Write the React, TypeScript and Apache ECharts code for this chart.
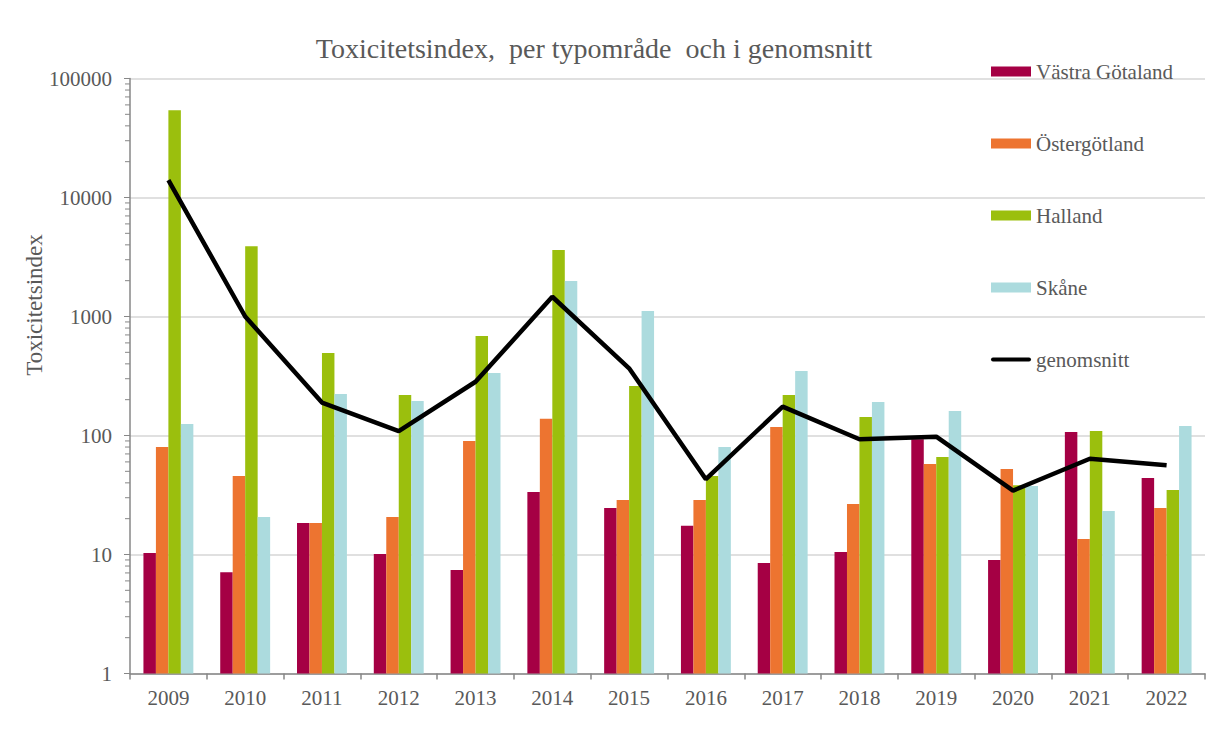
import React, { useEffect, useRef } from "react";
import * as echarts from "echarts";

const years = ["2009", "2010", "2011", "2012", "2013", "2014", "2015", "2016", "2017", "2018", "2019", "2020", "2021", "2022"];
const vastraGotaland = [10.3, 7.1, 18.4, 10.1, 7.4, 33.5, 24.6, 17.4, 8.5, 10.5, 93, 9.0, 107, 44];
const ostergotland = [80, 45.7, 18.4, 20.7, 90, 138, 28.7, 28.7, 118, 26.6, 57.6, 52.3, 13.5, 24.6];
const halland = [54000, 3900, 493, 219, 686, 3620, 261, 45.7, 219, 143, 66, 38.2, 109, 34.8];
const skane = [125, 20.7, 223, 195, 335, 1990, 1112, 80, 348, 191, 161, 37.6, 23.2, 120];
const genomsnitt = [14000, 1000, 189, 109, 283, 1466, 367, 42.9, 175, 93, 97.7, 34.4, 63.8, 56.2];

// axis decoration: decades and the log minor-tick multipliers
const decades = [1, 10, 100, 1000, 10000];
const minorMultipliers = [2, 3, 4, 5, 6, 7, 8, 9];

const FONT = "Liberation Serif";
const TEXT = "#595959";
const AXIS = "#878787";

export default function App() {
  const ref = useRef<HTMLDivElement>(null);
  useEffect(() => {
    document.body.style.margin = "0";
    const chart = echarts.init(ref.current!, null, { renderer: "svg" });
    const minorTicks: number[][] = [];
    decades.forEach((d) => minorMultipliers.forEach((m) => minorTicks.push([0, d * m])));
    const barNames = ["Västra Götaland", "Östergötland", "Halland", "Skåne"];
    const barData = [vastraGotaland, ostergotland, halland, skane];
    const barColors = ["#A50044", "#ED7430", "#9BBF0D", "#ACDBDE"];
    const legendText = { fontFamily: FONT, fontSize: 21, lineHeight: 21, color: TEXT };
    chart.setOption({
      animation: false,
      textStyle: { fontFamily: FONT },
      title: {
        text: "Toxicitetsindex,  per typområde  och i genomsnitt",
        left: 589,
        top: 29,
        textAlign: "center",
        textStyle: { fontFamily: FONT, fontSize: 28, fontWeight: "normal", color: TEXT },
      },
      graphic: [
        {
          type: "text",
          x: 34,
          y: 305,
          rotation: Math.PI / 2,
          style: {
            text: "Toxicitetsindex",
            fontFamily: FONT,
            fontSize: 23,
            fill: TEXT,
            textAlign: "center",
            textVerticalAlign: "middle",
          },
        },
      ],
      legend: {
        orient: "vertical",
        left: 991,
        top: 61,
        padding: 0,
        itemWidth: 40,
        itemHeight: 10,
        itemGap: 51,
        icon: "rect",
        textStyle: legendText,
        data: [
          ...barNames.map((n) => ({ name: n, textStyle: legendText })),
          {
            name: "genomsnitt",
            textStyle: legendText,
            icon: "path://M2,0 L38,0 A2,2 0 0 1 38,4 L2,4 A2,2 0 0 1 2,0 Z",
          },
        ],
      },
      grid: { left: 130, right: 16, top: 78.5, bottom: 64.5, containLabel: false },
      xAxis: {
        type: "category",
        data: years,
        boundaryGap: true,
        axisLine: { lineStyle: { color: AXIS, width: 1.5 } },
        axisTick: { show: true, alignWithLabel: false, length: 6, lineStyle: { color: AXIS, width: 1.5 } },
        axisLabel: { fontFamily: FONT, fontSize: 21, color: TEXT, margin: 14 },
        splitLine: { show: false },
      },
      yAxis: {
        type: "log",
        logBase: 10,
        min: 1,
        max: 100000,
        axisLine: { show: true, lineStyle: { color: AXIS, width: 1.5 } },
        axisTick: { show: true, length: 6, lineStyle: { color: AXIS, width: 1 } },
        axisLabel: {
          fontFamily: FONT,
          fontSize: 21,
          color: TEXT,
          margin: 18,
          formatter: (v: number) => String(Math.round(v)),
        },
        splitLine: { show: true, lineStyle: { color: "#D6D6D6", width: 1.5 } },
      },
      series: [
        ...barNames.map((name, i) => ({
          name,
          type: "bar",
          data: barData[i],
          barGap: "0%",
          barCategoryGap: "35%",
          itemStyle: { color: barColors[i] },
        })),
        {
          name: "genomsnitt",
          type: "line",
          data: genomsnitt,
          symbol: "none",
          z: 5,
          itemStyle: { color: "#000000" },
          lineStyle: { color: "#000000", width: 4.5 },
        },
        {
          name: "minorTicks",
          type: "custom",
          silent: true,
          clip: false,
          data: minorTicks,
          encode: { x: 0, y: 1 },
          renderItem: (params: any, api: any) => {
            const cs = params.coordSys;
            const p = api.coord([api.value(0), api.value(1)]);
            return {
              type: "line",
              shape: { x1: cs.x - 5, y1: p[1], x2: cs.x, y2: p[1] },
              style: { stroke: AXIS, lineWidth: 1 },
            };
          },
        },
      ],
    });
    return () => chart.dispose();
  }, []);
  return <div ref={ref} style={{ width: 1221, height: 738 }} />;
}
